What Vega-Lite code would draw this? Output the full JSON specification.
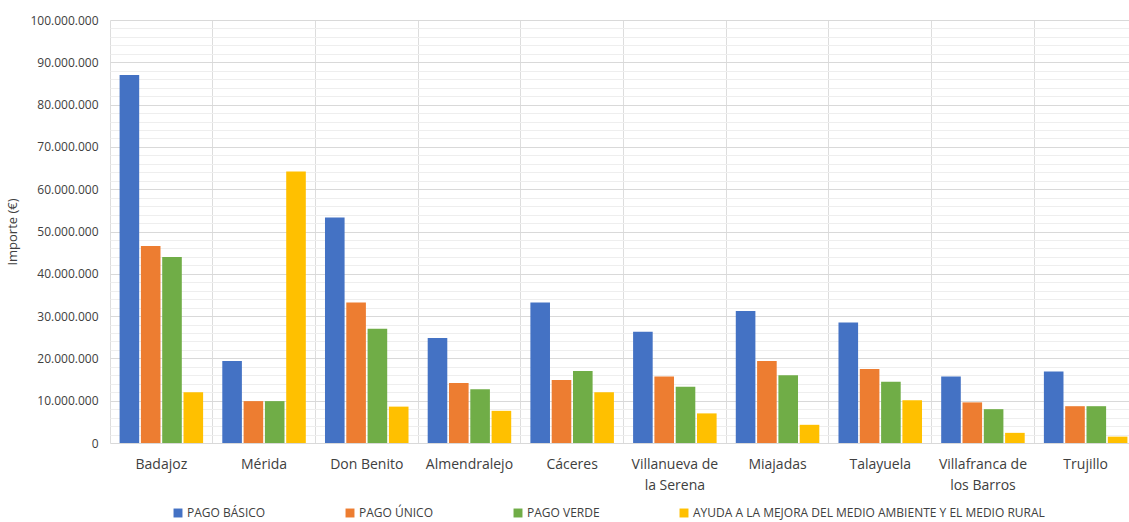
{
  "$schema": "https://vega.github.io/schema/vega-lite/v6.json",
  "autosize": {"type": "none"},
  "width": 1027,
  "height": 423,
  "padding": {"left": 110, "top": 20, "right": 0, "bottom": 79},
  "background": "white",
  "config": {
    "font": "Open Sans, sans-serif",
    "view": {"stroke": null}
  },
  "data": {
    "values": [
      {"city": "Badajoz", "serie": "PAGO BÁSICO", "importe": 87000000},
      {"city": "Badajoz", "serie": "PAGO ÚNICO", "importe": 46600000},
      {"city": "Badajoz", "serie": "PAGO VERDE", "importe": 44000000},
      {"city": "Badajoz", "serie": "AYUDA A LA MEJORA DEL MEDIO AMBIENTE Y EL MEDIO RURAL", "importe": 12000000},
      {"city": "Mérida", "serie": "PAGO BÁSICO", "importe": 19400000},
      {"city": "Mérida", "serie": "PAGO ÚNICO", "importe": 9900000},
      {"city": "Mérida", "serie": "PAGO VERDE", "importe": 9900000},
      {"city": "Mérida", "serie": "AYUDA A LA MEJORA DEL MEDIO AMBIENTE Y EL MEDIO RURAL", "importe": 64200000},
      {"city": "Don Benito", "serie": "PAGO BÁSICO", "importe": 53300000},
      {"city": "Don Benito", "serie": "PAGO ÚNICO", "importe": 33200000},
      {"city": "Don Benito", "serie": "PAGO VERDE", "importe": 27000000},
      {"city": "Don Benito", "serie": "AYUDA A LA MEJORA DEL MEDIO AMBIENTE Y EL MEDIO RURAL", "importe": 8600000},
      {"city": "Almendralejo", "serie": "PAGO BÁSICO", "importe": 24800000},
      {"city": "Almendralejo", "serie": "PAGO ÚNICO", "importe": 14200000},
      {"city": "Almendralejo", "serie": "PAGO VERDE", "importe": 12700000},
      {"city": "Almendralejo", "serie": "AYUDA A LA MEJORA DEL MEDIO AMBIENTE Y EL MEDIO RURAL", "importe": 7600000},
      {"city": "Cáceres", "serie": "PAGO BÁSICO", "importe": 33200000},
      {"city": "Cáceres", "serie": "PAGO ÚNICO", "importe": 14900000},
      {"city": "Cáceres", "serie": "PAGO VERDE", "importe": 17000000},
      {"city": "Cáceres", "serie": "AYUDA A LA MEJORA DEL MEDIO AMBIENTE Y EL MEDIO RURAL", "importe": 12000000},
      {"city": "Villanueva de la Serena", "serie": "PAGO BÁSICO", "importe": 26300000},
      {"city": "Villanueva de la Serena", "serie": "PAGO ÚNICO", "importe": 15700000},
      {"city": "Villanueva de la Serena", "serie": "PAGO VERDE", "importe": 13300000},
      {"city": "Villanueva de la Serena", "serie": "AYUDA A LA MEJORA DEL MEDIO AMBIENTE Y EL MEDIO RURAL", "importe": 7000000},
      {"city": "Miajadas", "serie": "PAGO BÁSICO", "importe": 31200000},
      {"city": "Miajadas", "serie": "PAGO ÚNICO", "importe": 19400000},
      {"city": "Miajadas", "serie": "PAGO VERDE", "importe": 16000000},
      {"city": "Miajadas", "serie": "AYUDA A LA MEJORA DEL MEDIO AMBIENTE Y EL MEDIO RURAL", "importe": 4300000},
      {"city": "Talayuela", "serie": "PAGO BÁSICO", "importe": 28500000},
      {"city": "Talayuela", "serie": "PAGO ÚNICO", "importe": 17500000},
      {"city": "Talayuela", "serie": "PAGO VERDE", "importe": 14500000},
      {"city": "Talayuela", "serie": "AYUDA A LA MEJORA DEL MEDIO AMBIENTE Y EL MEDIO RURAL", "importe": 10100000},
      {"city": "Villafranca de los Barros", "serie": "PAGO BÁSICO", "importe": 15700000},
      {"city": "Villafranca de los Barros", "serie": "PAGO ÚNICO", "importe": 9600000},
      {"city": "Villafranca de los Barros", "serie": "PAGO VERDE", "importe": 8000000},
      {"city": "Villafranca de los Barros", "serie": "AYUDA A LA MEJORA DEL MEDIO AMBIENTE Y EL MEDIO RURAL", "importe": 2400000},
      {"city": "Trujillo", "serie": "PAGO BÁSICO", "importe": 16900000},
      {"city": "Trujillo", "serie": "PAGO ÚNICO", "importe": 8700000},
      {"city": "Trujillo", "serie": "PAGO VERDE", "importe": 8700000},
      {"city": "Trujillo", "serie": "AYUDA A LA MEJORA DEL MEDIO AMBIENTE Y EL MEDIO RURAL", "importe": 1500000}
    ]
  },
  "mark": {"type": "bar"},
  "encoding": {
    "x": {
      "field": "city",
      "type": "nominal",
      "sort": null,
      "scale": {"paddingInner": 0, "paddingOuter": 0},
      "axis": {
        "title": null,
        "domain": false,
        "ticks": false,
        "grid": true,
        "bandPosition": 0,
        "gridColor": "#dddddd",
        "gridWidth": 1,
        "labelAngle": 0,
        "labelFontSize": 14,
        "labelColor": "#404040",
        "labelPadding": 14,
        "labelLineHeight": 21,
        "labelBaseline": "top",
        "labelLimit": 200,
        "labelExpr": "datum.label == 'Villanueva de la Serena' ? ['Villanueva de', 'la Serena'] : datum.label == 'Villafranca de los Barros' ? ['Villafranca de', 'los Barros'] : datum.label"
      }
    },
    "xOffset": {
      "field": "serie",
      "type": "nominal",
      "sort": ["PAGO BÁSICO", "PAGO ÚNICO", "PAGO VERDE", "AYUDA A LA MEJORA DEL MEDIO AMBIENTE Y EL MEDIO RURAL"],
      "scale": {"paddingOuter": 0.45, "paddingInner": 0.08}
    },
    "y": {
      "field": "importe",
      "type": "quantitative",
      "scale": {"domain": [0, 100000000], "nice": false},
      "axis": {
        "title": "Importe (€)",
        "titleFontSize": 13,
        "titleFontWeight": "normal",
        "titleColor": "#404040",
        "titlePadding": 10,
        "values": [0,2000000,4000000,6000000,8000000,10000000,12000000,14000000,16000000,18000000,20000000,22000000,24000000,26000000,28000000,30000000,32000000,34000000,36000000,38000000,40000000,42000000,44000000,46000000,48000000,50000000,52000000,54000000,56000000,58000000,60000000,62000000,64000000,66000000,68000000,70000000,72000000,74000000,76000000,78000000,80000000,82000000,84000000,86000000,88000000,90000000,92000000,94000000,96000000,98000000,100000000],
        "labelExpr": "datum.value % 10000000 === 0 ? replace(format(datum.value, ','), regexp(',', 'g'), '.') : ''",
        "labelOverlap": false,
        "labelFontSize": 12,
        "labelColor": "#404040",
        "labelPadding": 12,
        "domain": false,
        "ticks": false,
        "grid": true,
        "gridColor": {"condition": {"test": "datum.value % 10000000 === 0", "value": "#d9d9d9"}, "value": "#eeeeee"}
      }
    },
    "color": {
      "field": "serie",
      "type": "nominal",
      "scale": {
        "domain": ["PAGO BÁSICO", "PAGO ÚNICO", "PAGO VERDE", "AYUDA A LA MEJORA DEL MEDIO AMBIENTE Y EL MEDIO RURAL"],
        "range": ["#4472C4", "#ED7D31", "#70AD47", "#FFC000"]
      },
      "legend": {
        "title": null,
        "orient": "none",
        "legendX": 62,
        "legendY": 487,
        "direction": "horizontal",
        "columns": 4,
        "columnPadding": 78,
        "symbolType": "square",
        "symbolSize": 80,
        "symbolStrokeWidth": 0,
        "labelFontSize": 12,
        "labelColor": "#404040",
        "labelLimit": 500,
        "labelOffset": 3
      }
    }
  }
}
